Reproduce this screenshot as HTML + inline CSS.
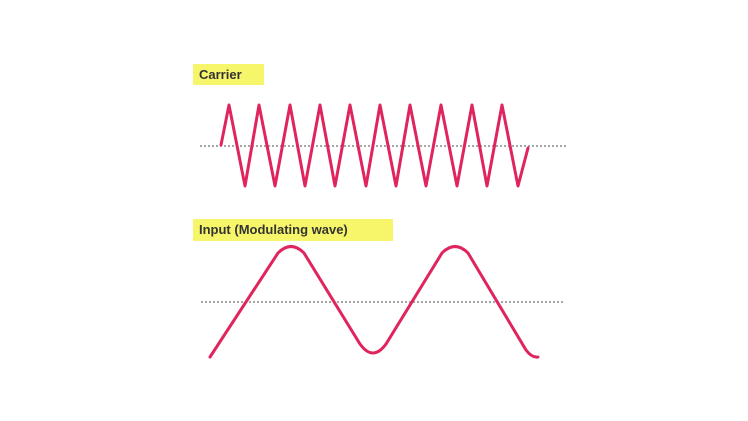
<!DOCTYPE html>
<html><head><style>
html,body{margin:0;padding:0;background:#fff;}
.lbl{position:absolute;background:#f7f56a;font-family:"Liberation Sans",sans-serif;font-weight:bold;font-size:13px;color:#333;padding:0 6px;line-height:21px;}
</style></head><body>
<div style="position:relative;width:748px;height:421px;overflow:hidden">
<div class="lbl" style="left:193px;top:64px;width:59px;height:21px">Carrier</div>
<div class="lbl" style="left:193px;top:219px;width:188px;height:22px">Input (Modulating wave)</div>
<svg width="748" height="421" style="position:absolute;left:0;top:0">
<line x1="200" y1="146" x2="566" y2="146" stroke="#888" stroke-width="1.5" stroke-dasharray="2,2"/>
<line x1="201" y1="302" x2="563" y2="302" stroke="#888" stroke-width="1.5" stroke-dasharray="2,2"/>
<polyline fill="none" stroke="#e0245e" stroke-width="3" stroke-linejoin="round" stroke-linecap="round"
points="221,145 229,105 245,186 259,105 275,186 290,105 305,186 320,105 335,186 350,105 366,186 380,105 396,186 410,105 426,186 441,105 457,186 472,105 487,186 502,105 518,186 528,148"/>
<path fill="none" stroke="#e0245e" stroke-width="3" stroke-linecap="round"
d="M210,357 L278,253 Q291,240 304,253 L360,344 Q373,362 386,344 L442,253 Q455,240 468,253 L526,350 Q532,358 538,357"/>
</svg>
</div>
</body></html>
